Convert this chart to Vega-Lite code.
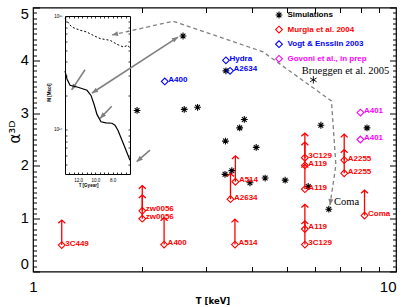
{
  "$schema": "https://vega.github.io/schema/vega-lite/v6.json",
  "width": 363,
  "height": 264,
  "autosize": {"type": "none"},
  "padding": {"left": 33, "top": 7.5, "right": 11, "bottom": 35.5},
  "background": "white",
  "config": {
    "font": "Liberation Sans",
    "view": {"stroke": "black", "strokeWidth": 1.2},
    "axis": {"domain": false, "grid": false, "tickColor": "black", "labelColor": "black", "titleColor": "black", "tickWidth": 1}
  },
  "datasets": {
    "pts": [
      {"series": "Simulations", "T": 2.59, "alpha": 4.46},
      {"series": "Simulations", "T": 1.935, "alpha": 3.05},
      {"series": "Simulations", "T": 2.61, "alpha": 3.07},
      {"series": "Simulations", "T": 2.84, "alpha": 3.11},
      {"series": "Simulations", "T": 3.82, "alpha": 2.88},
      {"series": "Simulations", "T": 3.71, "alpha": 2.72},
      {"series": "Simulations", "T": 3.39, "alpha": 2.47},
      {"series": "Simulations", "T": 4.12, "alpha": 2.35},
      {"series": "Simulations", "T": 3.38, "alpha": 1.84},
      {"series": "Simulations", "T": 3.53, "alpha": 1.91},
      {"series": "Simulations", "T": 3.96, "alpha": 1.68},
      {"series": "Simulations", "T": 4.36, "alpha": 1.77},
      {"series": "Simulations", "T": 4.95, "alpha": 1.73},
      {"series": "Simulations", "T": 5.73, "alpha": 1.61},
      {"series": "Simulations", "T": 6.21, "alpha": 2.77},
      {"series": "Simulations", "T": 8.32, "alpha": 2.72},
      {"series": "Simulations", "T": 3.40, "alpha": 3.80},
      {"series": "Simulations", "T": 6.53, "alpha": 1.18},
      {"series": "Murgia et al. 2004", "name": "3C449", "T": 1.20, "alpha": 0.50, "top": 0.975},
      {"series": "Murgia et al. 2004", "name": "zw0056", "T": 2.0, "alpha": 1.15, "top": 1.625},
      {"series": "Murgia et al. 2004", "name": "zw0056", "T": 2.0, "alpha": 1.0, "top": 1.45},
      {"series": "Murgia et al. 2004", "name": "A400", "T": 2.297, "alpha": 0.51, "top": 1.02},
      {"series": "Murgia et al. 2004", "name": "A514", "T": 3.60, "alpha": 0.51, "top": 0.99},
      {"series": "Murgia et al. 2004", "name": "A2634", "T": 3.50, "alpha": 1.37, "top": 1.86},
      {"series": "Murgia et al. 2004", "name": "A514", "T": 3.61, "alpha": 1.70, "top": 2.19},
      {"series": "Murgia et al. 2004", "name": "3C129", "T": 5.61, "alpha": 2.155, "top": 2.62},
      {"series": "Murgia et al. 2004", "name": "A119", "T": 5.61, "alpha": 2.01, "top": 2.45},
      {"series": "Murgia et al. 2004", "name": "A119", "T": 5.61, "alpha": 1.56, "top": 2.03},
      {"series": "Murgia et al. 2004", "name": "A119", "T": 5.61, "alpha": 0.805, "top": 1.27},
      {"series": "Murgia et al. 2004", "name": "3C129", "T": 5.61, "alpha": 0.51, "top": 0.96},
      {"series": "Murgia et al. 2004", "name": "A2255", "T": 7.20, "alpha": 2.11, "top": 2.60},
      {"series": "Murgia et al. 2004", "name": "A2255", "T": 7.20, "alpha": 1.86, "top": 2.31},
      {"series": "Murgia et al. 2004", "name": "Coma", "T": 8.19, "alpha": 1.06, "top": 1.54},
      {"series": "Vogt & Ensslin 2003", "name": "Hydra", "T": 3.40, "alpha": 4.0},
      {"series": "Vogt & Ensslin 2003", "name": "A2634", "T": 3.49, "alpha": 3.80},
      {"series": "Vogt & Ensslin 2003", "name": "A400", "T": 2.307, "alpha": 3.60},
      {"series": "Govoni et al., in prep", "name": "A401", "T": 7.98, "alpha": 3.01},
      {"series": "Govoni et al., in prep", "name": "A401", "T": 7.98, "alpha": 2.50}
    ],
    "track": [
      {"k": 0, "T": 1.651, "alpha": 4.48},
      {"k": 1, "T": 2.431, "alpha": 4.74},
      {"k": 2, "T": 4.30, "alpha": 4.16},
      {"k": 3, "T": 6.64, "alpha": 3.23},
      {"k": 4, "T": 6.83, "alpha": 2.02},
      {"k": 5, "T": 6.58, "alpha": 1.26}
    ],
    "arrows": [
      {"T": 1.454, "alpha": 3.38, "T2": 2.508, "alpha2": 4.44},
      {"T": 1.391, "alpha": 3.82, "T2": 1.278, "alpha2": 3.44},
      {"T": 1.648, "alpha": 3.13, "T2": 1.530, "alpha2": 2.90},
      {"T": 2.10, "alpha": 2.30, "T2": 1.931, "alpha2": 2.08}
    ],
    "notes": [
      {"note": "Brueggen et al. 2005", "T": 5.50, "alpha": 3.80},
      {"note": "Coma", "T": 6.75, "alpha": 1.32}
    ],
    "mass": [
      {"t": 13.5, "M": 3.30e14}, {"t": 13.27, "M": 2.80e14}, {"t": 12.92, "M": 2.47e14},
      {"t": 12.0, "M": 2.37e14}, {"t": 10.96, "M": 2.23e14}, {"t": 10.5, "M": 2.01e14},
      {"t": 10.15, "M": 1.68e14}, {"t": 9.81, "M": 1.37e14}, {"t": 9.35, "M": 1.18e14},
      {"t": 8.77, "M": 1.156e14}, {"t": 8.08, "M": 1.146e14}, {"t": 7.73, "M": 1.10e14},
      {"t": 7.38, "M": 9.91e13}, {"t": 6.69, "M": 7.35e13}, {"t": 6.0, "M": 5.42e13}
    ],
    "mass2": [
      {"t": 13.5, "M": 9.49e14}, {"t": 12.73, "M": 8.01e14}, {"t": 11.77, "M": 7.50e14},
      {"t": 11.0, "M": 7.24e14}, {"t": 10.27, "M": 6.78e14}, {"t": 9.46, "M": 6.34e14},
      {"t": 8.31, "M": 6.12e14}, {"t": 7.5, "M": 5.65e14}, {"t": 6.77, "M": 5.35e14},
      {"t": 6.23, "M": 5.53e14}, {"t": 6.0, "M": 5.18e14}
    ]
  },
  "resolve": {"scale": {"x": "independent", "y": "independent"}, "axis": {"x": "independent", "y": "independent"}},
  "layer": [
    {
      "resolve": {"axis": {"x": "independent", "y": "independent"}},
      "layer": [
        {
          "data": {"name": "track"},
          "mark": {"type": "line", "color": "#808080", "strokeWidth": 1.3, "strokeDash": [4, 3]},
          "encoding": {
            "x": {"field": "T", "type": "quantitative", "scale": {"type": "log", "domain": [1, 10], "nice": false},
              "axis": {"orient": "bottom", "values": [1, 2, 3, 4, 5, 6, 7, 8, 9, 10], "tickSize": -5,
                "labelExpr": "datum.value == 1 ? '1' : datum.value == 10 ? '10' : ''",
                "labelAlign": {"condition": {"test": "datum.value == 10", "value": "right"}, "value": "center"},
                "labelBaseline": "middle", "labelPadding": 19.5, "labelFontSize": 15, "labelOverlap": false, "labelFlush": false,
                "title": "T [keV]", "titleFont": "DejaVu Sans", "titleFontSize": 8.5, "titleFontWeight": "bold",
                "titleX": 179.5, "titleY": 29, "titleBaseline": "middle", "titleAlign": "center"}},
            "y": {"field": "alpha", "type": "quantitative", "scale": {"domain": [0, 5], "nice": false, "zero": false},
              "axis": {"orient": "left", "values": [0, 1, 2, 3, 4, 5], "tickSize": -6.5, "labelFontSize": 14.5,
                "labelPadding": 11.2, "labelFlush": true, "labelOverlap": false,
                "title": "α³ᴰ", "titleFont": "DejaVu Sans", "titleFontSize": 15, "titleFontWeight": "normal",
                "titleX": -19, "titleY": 124, "titleAngle": 270, "titleBaseline": "middle", "titleAlign": "center"}},
            "order": {"field": "k", "type": "quantitative"}
          }
        },
        {
          "data": {"name": "arrows"},
          "mark": {"type": "rule", "color": "#808080", "strokeWidth": 1.6},
          "encoding": {
            "x": {"field": "T", "type": "quantitative",
              "axis": {"orient": "top", "values": [2, 3, 4, 5, 6, 7, 8, 9], "tickSize": -5, "labels": false, "title": null}},
            "x2": {"field": "T2"},
            "y": {"field": "alpha", "type": "quantitative",
              "axis": {"orient": "left", "values": [0.1,0.2,0.3,0.4,0.5,0.6,0.7,0.8,0.9,1.1,1.2,1.3,1.4,1.5,1.6,1.7,1.8,1.9,2.1,2.2,2.3,2.4,2.5,2.6,2.7,2.8,2.9,3.1,3.2,3.3,3.4,3.5,3.6,3.7,3.8,3.9,4.1,4.2,4.3,4.4,4.5,4.6,4.7,4.8,4.9], "tickSize": -3.5, "labels": false, "title": null}},
            "y2": {"field": "alpha2"}
          }
        },
        {
          "data": {"name": "pts"},
          "transform": [{"filter": "isValid(datum.top)"}],
          "mark": {"type": "rule", "color": "red", "strokeWidth": 1.3},
          "encoding": {
            "x": {"field": "T", "type": "quantitative", "axis": null},
            "y": {"field": "alpha", "type": "quantitative",
              "axis": {"orient": "right", "values": [0, 1, 2, 3, 4, 5], "tickSize": -6.5, "labels": false, "title": null}},
            "y2": {"field": "top"}
          }
        },
        {
          "data": {"name": "pts"},
          "transform": [{"filter": "isValid(datum.top)"}],
          "mark": {"type": "point", "shape": "M-1,0.9L0,0L1,0.9", "filled": false, "color": "red", "strokeWidth": 1.3, "size": 49, "opacity": 1},
          "encoding": {
            "x": {"field": "T", "type": "quantitative", "axis": null},
            "y": {"field": "top", "type": "quantitative",
              "axis": {"orient": "right", "values": [0.1,0.2,0.3,0.4,0.5,0.6,0.7,0.8,0.9,1.1,1.2,1.3,1.4,1.5,1.6,1.7,1.8,1.9,2.1,2.2,2.3,2.4,2.5,2.6,2.7,2.8,2.9,3.1,3.2,3.3,3.4,3.5,3.6,3.7,3.8,3.9,4.1,4.2,4.3,4.4,4.5,4.6,4.7,4.8,4.9], "tickSize": -3.5, "labels": false, "title": null}}
          }
        },
        {
          "data": {"name": "pts"},
          "mark": {"type": "point", "filled": false, "strokeWidth": 1.1, "size": 46, "opacity": 1},
          "encoding": {
            "x": {"field": "T", "type": "quantitative", "axis": null},
            "y": {"field": "alpha", "type": "quantitative", "axis": null},
            "color": {"field": "series", "type": "nominal",
              "scale": {"domain": ["Simulations", "Murgia et al. 2004", "Vogt & Ensslin 2003", "Govoni et al., in prep"], "range": ["black", "red", "blue", "magenta"]},
              "legend": {"title": null, "orient": "none", "legendX": 242, "legendY": 3.5, "padding": 0, "labelFont": "Liberation Sans", "labelFontSize": 8, "labelFontWeight": "bold", "symbolSize": 46, "symbolStrokeWidth": 1.1, "symbolFillColor": "transparent", "rowPadding": 2.6, "labelOffset": 4.5,
                "labelColor": {"expr": "datum.value == 'Simulations' ? 'black' : datum.value == 'Murgia et al. 2004' ? 'red' : datum.value == 'Vogt & Ensslin 2003' ? 'blue' : 'magenta'"}}},
            "shape": {"field": "series", "type": "nominal",
              "scale": {"domain": ["Simulations", "Murgia et al. 2004", "Vogt & Ensslin 2003", "Govoni et al., in prep"], "range": ["M0,-1L0,1M-1,0L1,0M-0.7,-0.7L0.7,0.7M-0.7,0.7L0.7,-0.7", "diamond", "diamond", "diamond"]},
              "legend": {"title": null, "orient": "none", "legendX": 242, "legendY": 3.5, "padding": 0, "labelFont": "Liberation Sans", "labelFontSize": 8, "labelFontWeight": "bold", "symbolSize": 46, "symbolStrokeWidth": 1.1, "symbolFillColor": "transparent", "rowPadding": 2.6, "labelOffset": 4.5,
                "labelColor": {"expr": "datum.value == 'Simulations' ? 'black' : datum.value == 'Murgia et al. 2004' ? 'red' : datum.value == 'Vogt & Ensslin 2003' ? 'blue' : 'magenta'"}}}
          }
        },
        {
          "data": {"name": "pts"},
          "transform": [{"filter": "datum.series == 'Murgia et al. 2004'"}],
          "mark": {"type": "text", "align": "left", "baseline": "middle", "dx": 3.5, "dy": -1.5, "fontSize": 8, "fontWeight": "bold", "color": "red"},
          "encoding": {
            "x": {"field": "T", "type": "quantitative", "axis": null},
            "y": {"field": "alpha", "type": "quantitative", "axis": null},
            "text": {"field": "name"}
          }
        },
        {
          "data": {"name": "pts"},
          "transform": [{"filter": "datum.series == 'Vogt & Ensslin 2003'"}],
          "mark": {"type": "text", "align": "left", "baseline": "middle", "dx": 3.5, "dy": -1.5, "fontSize": 8, "fontWeight": "bold", "color": "blue"},
          "encoding": {
            "x": {"field": "T", "type": "quantitative", "axis": null},
            "y": {"field": "alpha", "type": "quantitative", "axis": null},
            "text": {"field": "name"}
          }
        },
        {
          "data": {"name": "pts"},
          "transform": [{"filter": "datum.series == 'Govoni et al., in prep'"}],
          "mark": {"type": "text", "align": "left", "baseline": "middle", "dx": 3.5, "dy": -1.5, "fontSize": 8, "fontWeight": "bold", "color": "magenta"},
          "encoding": {
            "x": {"field": "T", "type": "quantitative", "axis": null},
            "y": {"field": "alpha", "type": "quantitative", "axis": null},
            "text": {"field": "name"}
          }
        },
        {
          "data": {"values": [{"T": 5.92, "alpha": 3.63}]},
          "mark": {"type": "point", "shape": "M0,-1L0,1M-0.87,-0.5L0.87,0.5M-0.87,0.5L0.87,-0.5", "filled": false, "color": "black", "strokeWidth": 0.9, "size": 56, "opacity": 1},
          "encoding": {"x": {"field": "T", "type": "quantitative", "axis": null}, "y": {"field": "alpha", "type": "quantitative", "axis": null}}
        },
        {
          "data": {"name": "notes"},
          "mark": {"type": "text", "font": "Liberation Serif", "fontSize": 10.5, "align": "left", "baseline": "middle", "color": "black"},
          "encoding": {"x": {"field": "T", "type": "quantitative", "axis": null}, "y": {"field": "alpha", "type": "quantitative", "axis": null}, "text": {"field": "note"}}
        },
        {
          "data": {"values": [{"T": 1.651, "alpha": 4.48}]},
          "mark": {"type": "point", "shape": "M0,0L0.42,1L-0.42,1Z", "filled": true, "color": "#808080", "size": 144, "angle": 257, "opacity": 1, "strokeWidth": 0},
          "encoding": {"x": {"field": "T", "type": "quantitative", "axis": null}, "y": {"field": "alpha", "type": "quantitative", "axis": null}}
        },
        {
          "data": {"values": [{"T": 6.58, "alpha": 1.26}]},
          "mark": {"type": "point", "shape": "M0,0L0.42,1L-0.42,1Z", "filled": true, "color": "#808080", "size": 144, "angle": 188, "opacity": 1, "strokeWidth": 0},
          "encoding": {"x": {"field": "T", "type": "quantitative", "axis": null}, "y": {"field": "alpha", "type": "quantitative", "axis": null}}
        },
        {
          "data": {"values": [{"T": 1.454, "alpha": 3.38}]},
          "mark": {"type": "point", "shape": "M0,0L0.42,1L-0.42,1Z", "filled": true, "color": "#808080", "size": 144, "angle": 237, "opacity": 1, "strokeWidth": 0},
          "encoding": {"x": {"field": "T", "type": "quantitative", "axis": null}, "y": {"field": "alpha", "type": "quantitative", "axis": null}}
        },
        {
          "data": {"values": [{"T": 2.508, "alpha": 4.44}]},
          "mark": {"type": "point", "shape": "M0,0L0.42,1L-0.42,1Z", "filled": true, "color": "#808080", "size": 144, "angle": 57, "opacity": 1, "strokeWidth": 0},
          "encoding": {"x": {"field": "T", "type": "quantitative", "axis": null}, "y": {"field": "alpha", "type": "quantitative", "axis": null}}
        },
        {
          "data": {"values": [{"T": 1.278, "alpha": 3.44}]},
          "mark": {"type": "point", "shape": "M0,0L0.42,1L-0.42,1Z", "filled": true, "color": "#808080", "size": 144, "angle": 214, "opacity": 1, "strokeWidth": 0},
          "encoding": {"x": {"field": "T", "type": "quantitative", "axis": null}, "y": {"field": "alpha", "type": "quantitative", "axis": null}}
        },
        {
          "data": {"values": [{"T": 1.530, "alpha": 2.90}]},
          "mark": {"type": "point", "shape": "M0,0L0.42,1L-0.42,1Z", "filled": true, "color": "#808080", "size": 144, "angle": 224, "opacity": 1, "strokeWidth": 0},
          "encoding": {"x": {"field": "T", "type": "quantitative", "axis": null}, "y": {"field": "alpha", "type": "quantitative", "axis": null}}
        },
        {
          "data": {"values": [{"T": 1.931, "alpha": 2.08}]},
          "mark": {"type": "point", "shape": "M0,0L0.42,1L-0.42,1Z", "filled": true, "color": "#808080", "size": 144, "angle": 229, "opacity": 1, "strokeWidth": 0},
          "encoding": {"x": {"field": "T", "type": "quantitative", "axis": null}, "y": {"field": "alpha", "type": "quantitative", "axis": null}}
        }
      ]
    },
    {
      "resolve": {"axis": {"x": "independent", "y": "independent"}},
      "layer": [
        {
          "data": {"name": "mass"},
          "mark": {"type": "line", "color": "black", "strokeWidth": 1.2},
          "encoding": {
            "x": {"field": "t", "type": "quantitative", "scale": {"domain": [13.5, 6], "range": [32, 97], "nice": false, "zero": false},
              "axis": {"orient": "bottom", "offset": -97.5, "domain": true, "domainColor": "black", "domainWidth": 1,
                "values": [6.5, 7, 7.5, 8, 8.5, 9, 9.5, 10, 10.5, 11, 11.5, 12, 12.5, 13], "tickSize": -2, "tickWidth": 0.8,
                "labelExpr": "datum.value == 12 || datum.value == 10 || datum.value == 8 ? datum.label : ''",
                "labelFontSize": 4.5, "labelPadding": 8, "labelBaseline": "middle", "labelOverlap": false,
                "title": "T [Gyear]", "titleFontSize": 4.5, "titleFontWeight": "bold", "titleX": 55, "titleY": 11, "titleBaseline": "middle", "titleAlign": "center"}},
            "y": {"field": "M", "type": "quantitative", "scale": {"type": "log", "domain": [4.11e13, 1e15], "range": [166.5, 8.5], "nice": false},
              "axis": {"orient": "left", "offset": -32, "domain": true, "domainColor": "black", "domainWidth": 1,
                "values": [5e13, 6e13, 7e13, 8e13, 9e13, 1e14, 2e14, 3e14, 4e14, 5e14, 6e14, 7e14, 8e14, 9e14, 1e15], "tickSize": -2, "tickWidth": 0.8,
                "labelExpr": "datum.value == 1e14 ? '10¹⁴' : datum.value == 1e15 ? '10¹⁵' : ''",
                "labelFontSize": 4.5, "labelPadding": 5, "labelOverlap": false,
                "title": "M [Msol]", "titleFontSize": 4.5, "titleFontWeight": "bold", "titleX": -16, "titleY": 84.5, "titleAngle": 270, "titleBaseline": "middle", "titleAlign": "center"}}
          }
        },
        {
          "data": {"name": "mass2"},
          "mark": {"type": "line", "color": "black", "strokeWidth": 1, "strokeDash": [2, 2]},
          "encoding": {
            "x": {"field": "t", "type": "quantitative",
              "axis": {"orient": "top", "offset": -8.5, "domain": true, "domainColor": "black", "domainWidth": 1,
                "values": [6.5, 7, 7.5, 8, 8.5, 9, 9.5, 10, 10.5, 11, 11.5, 12, 12.5, 13], "tickSize": -2, "tickWidth": 0.8, "labels": false, "title": null}},
            "y": {"field": "M", "type": "quantitative",
              "axis": {"orient": "right", "offset": -266, "domain": true, "domainColor": "black", "domainWidth": 1,
                "values": [5e13, 6e13, 7e13, 8e13, 9e13, 1e14, 2e14, 3e14, 4e14, 5e14, 6e14, 7e14, 8e14, 9e14], "tickSize": -2, "tickWidth": 0.8, "labels": false, "title": null}}
          }
        }
      ]
    }
  ]
}
